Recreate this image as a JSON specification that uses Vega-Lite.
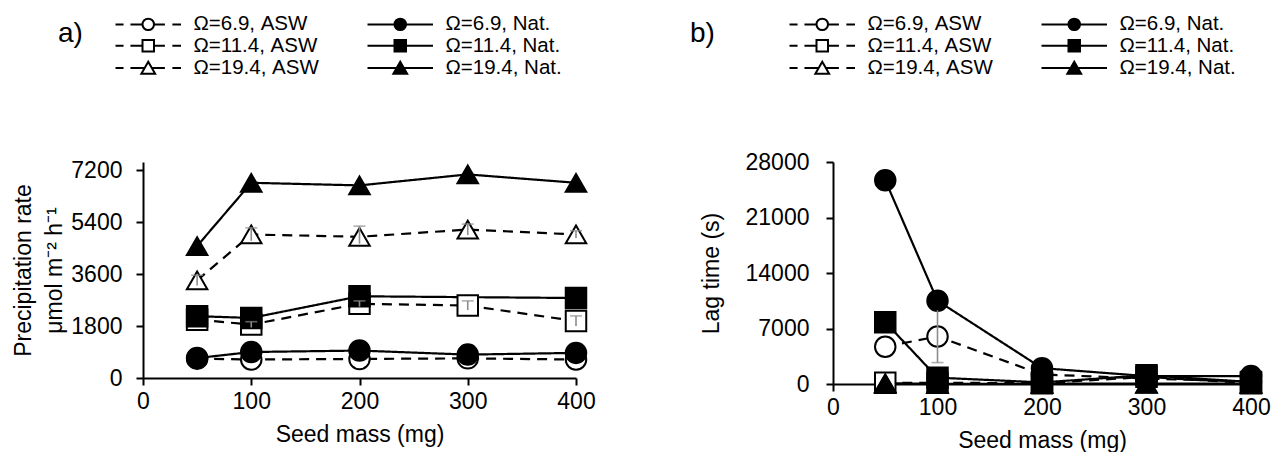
{
  "$schema": "https://vega.github.io/schema/vega-lite/v6.json",
  "background": "white",
  "autosize": {"type": "pad"},
  "padding": {"left": 12, "top": 14, "right": 0, "bottom": 0},
  "spacing": 94,
  "config": {
    "view": {"stroke": null},
    "font": "Liberation Sans",
    "axis": {
      "domainColor": "black", "domainWidth": 2, "tickColor": "black", "tickWidth": 2, "tickSize": 7,
      "labelFontSize": 23, "labelColor": "black", "labelFont": "Liberation Sans",
      "titleFont": "Liberation Sans", "titleFontSize": 23, "titleFontWeight": "normal", "titleColor": "black",
      "grid": false, "labelFlush": false, "labelOverlap": false, "format": "d"
    },
    "axisX": {"labelPadding": 5, "titlePadding": 10},
    "axisY": {"labelPadding": 14},
    "legend": {
      "orient": "none", "columns": 2, "labelFontSize": 20.5, "labelFont": "Liberation Sans", "labelColor": "black",
      "titleFont": "Liberation Sans", "titleFontSize": 28, "titleFontWeight": "normal", "titleColor": "black",
      "titleOrient": "left", "titleAnchor": "start", "titleBaseline": "line-top", "titleLineHeight": 40,
      "symbolSize": 132, "symbolOffset": 26, "labelOffset": 35, "rowPadding": 0.4, "columnPadding": 44,
      "symbolOpacity": 1, "symbolStrokeWidth": 2, "labelLimit": 0
    }
  },
  "datasets": {
    "a": [
      {"x": 50, "y": 670, "series": "Ω=6.9, ASW", "type": "ASW", "om": "6.9"},
      {"x": 100, "y": 640, "series": "Ω=6.9, ASW", "type": "ASW", "om": "6.9"},
      {"x": 200, "y": 660, "series": "Ω=6.9, ASW", "type": "ASW", "om": "6.9"},
      {"x": 300, "y": 680, "series": "Ω=6.9, ASW", "type": "ASW", "om": "6.9"},
      {"x": 400, "y": 640, "series": "Ω=6.9, ASW", "type": "ASW", "om": "6.9"},
      {"x": 50, "y": 2020, "series": "Ω=11.4, ASW", "type": "ASW", "om": "11.4"},
      {"x": 100, "y": 1850, "series": "Ω=11.4, ASW", "type": "ASW", "om": "11.4", "lo": 1750, "hi": 1950},
      {"x": 200, "y": 2570, "series": "Ω=11.4, ASW", "type": "ASW", "om": "11.4", "lo": 2470, "hi": 2670},
      {"x": 300, "y": 2510, "series": "Ω=11.4, ASW", "type": "ASW", "om": "11.4", "lo": 2350, "hi": 2670},
      {"x": 400, "y": 1970, "series": "Ω=11.4, ASW", "type": "ASW", "om": "11.4", "lo": 1800, "hi": 2150},
      {"x": 50, "y": 3380, "series": "Ω=19.4, ASW", "type": "ASW", "om": "19.4", "lo": 3200, "hi": 3560},
      {"x": 100, "y": 4970, "series": "Ω=19.4, ASW", "type": "ASW", "om": "19.4", "lo": 4750, "hi": 5200},
      {"x": 200, "y": 4890, "series": "Ω=19.4, ASW", "type": "ASW", "om": "19.4", "lo": 4650, "hi": 5260},
      {"x": 300, "y": 5140, "series": "Ω=19.4, ASW", "type": "ASW", "om": "19.4", "lo": 4950, "hi": 5330},
      {"x": 400, "y": 4970, "series": "Ω=19.4, ASW", "type": "ASW", "om": "19.4", "lo": 4850, "hi": 5100},
      {"x": 50, "y": 690, "series": "Ω=6.9, Nat.", "type": "Nat", "om": "6.9"},
      {"x": 100, "y": 900, "series": "Ω=6.9, Nat.", "type": "Nat", "om": "6.9"},
      {"x": 200, "y": 950, "series": "Ω=6.9, Nat.", "type": "Nat", "om": "6.9"},
      {"x": 300, "y": 810, "series": "Ω=6.9, Nat.", "type": "Nat", "om": "6.9"},
      {"x": 400, "y": 870, "series": "Ω=6.9, Nat.", "type": "Nat", "om": "6.9"},
      {"x": 50, "y": 2140, "series": "Ω=11.4, Nat.", "type": "Nat", "om": "11.4"},
      {"x": 100, "y": 2080, "series": "Ω=11.4, Nat.", "type": "Nat", "om": "11.4"},
      {"x": 200, "y": 2830, "series": "Ω=11.4, Nat.", "type": "Nat", "om": "11.4"},
      {"x": 400, "y": 2770, "series": "Ω=11.4, Nat.", "type": "Nat", "om": "11.4"},
      {"x": 50, "y": 4570, "series": "Ω=19.4, Nat.", "type": "Nat", "om": "19.4"},
      {"x": 100, "y": 6760, "series": "Ω=19.4, Nat.", "type": "Nat", "om": "19.4"},
      {"x": 200, "y": 6670, "series": "Ω=19.4, Nat.", "type": "Nat", "om": "19.4"},
      {"x": 300, "y": 7050, "series": "Ω=19.4, Nat.", "type": "Nat", "om": "19.4"},
      {"x": 400, "y": 6760, "series": "Ω=19.4, Nat.", "type": "Nat", "om": "19.4"}
    ],
    "b": [
      {"x": 50, "y": 4700, "series": "Ω=6.9, ASW", "type": "ASW", "om": "6.9"},
      {"x": 100, "y": 6000, "series": "Ω=6.9, ASW", "type": "ASW", "om": "6.9", "lo": 2700, "hi": 9300},
      {"x": 200, "y": 1200, "series": "Ω=6.9, ASW", "type": "ASW", "om": "6.9"},
      {"x": 300, "y": 700, "series": "Ω=6.9, ASW", "type": "ASW", "om": "6.9"},
      {"x": 400, "y": 300, "series": "Ω=6.9, ASW", "type": "ASW", "om": "6.9"},
      {"x": 50, "y": 150, "series": "Ω=11.4, ASW", "type": "ASW", "om": "11.4"},
      {"x": 100, "y": 150, "series": "Ω=11.4, ASW", "type": "ASW", "om": "11.4"},
      {"x": 200, "y": 100, "series": "Ω=11.4, ASW", "type": "ASW", "om": "11.4"},
      {"x": 300, "y": 900, "series": "Ω=11.4, ASW", "type": "ASW", "om": "11.4"},
      {"x": 400, "y": 100, "series": "Ω=11.4, ASW", "type": "ASW", "om": "11.4"},
      {"x": 50, "y": 0, "series": "Ω=19.4, ASW", "type": "ASW", "om": "19.4"},
      {"x": 100, "y": 0, "series": "Ω=19.4, ASW", "type": "ASW", "om": "19.4"},
      {"x": 200, "y": 0, "series": "Ω=19.4, ASW", "type": "ASW", "om": "19.4"},
      {"x": 300, "y": 0, "series": "Ω=19.4, ASW", "type": "ASW", "om": "19.4"},
      {"x": 400, "y": 0, "series": "Ω=19.4, ASW", "type": "ASW", "om": "19.4"},
      {"x": 50, "y": 25700, "series": "Ω=6.9, Nat.", "type": "Nat", "om": "6.9"},
      {"x": 100, "y": 10500, "series": "Ω=6.9, Nat.", "type": "Nat", "om": "6.9"},
      {"x": 200, "y": 2000, "series": "Ω=6.9, Nat.", "type": "Nat", "om": "6.9"},
      {"x": 300, "y": 1000, "series": "Ω=6.9, Nat.", "type": "Nat", "om": "6.9"},
      {"x": 400, "y": 1000, "series": "Ω=6.9, Nat.", "type": "Nat", "om": "6.9"},
      {"x": 50, "y": 7800, "series": "Ω=11.4, Nat.", "type": "Nat", "om": "11.4"},
      {"x": 100, "y": 800, "series": "Ω=11.4, Nat.", "type": "Nat", "om": "11.4"},
      {"x": 200, "y": 200, "series": "Ω=11.4, Nat.", "type": "Nat", "om": "11.4"},
      {"x": 300, "y": 1100, "series": "Ω=11.4, Nat.", "type": "Nat", "om": "11.4"},
      {"x": 400, "y": 250, "series": "Ω=11.4, Nat.", "type": "Nat", "om": "11.4"},
      {"x": 50, "y": 100, "series": "Ω=19.4, Nat.", "type": "Nat", "om": "19.4"},
      {"x": 100, "y": 30, "series": "Ω=19.4, Nat.", "type": "Nat", "om": "19.4"},
      {"x": 200, "y": 30, "series": "Ω=19.4, Nat.", "type": "Nat", "om": "19.4"},
      {"x": 300, "y": 50, "series": "Ω=19.4, Nat.", "type": "Nat", "om": "19.4"},
      {"x": 400, "y": 30, "series": "Ω=19.4, Nat.", "type": "Nat", "om": "19.4"}
    ]
  },
  "resolve": {
    "scale": {"shape": "independent", "fill": "independent", "strokeDash": "independent"},
    "legend": {"shape": "independent", "fill": "independent"}
  },
  "hconcat": [
    {
      "width": 433, "height": 216,
      "data": {"name": "a"},
      "encoding": {
        "x": {"field": "x", "type": "quantitative", "scale": {"domain": [0, 400], "nice": false, "zero": false},
              "axis": {"values": [0, 100, 200, 300, 400], "title": "Seed mass (mg)"}},
        "y": {"field": "y", "type": "quantitative", "scale": {"domain": [0, 7480], "nice": false},
              "axis": {"values": [0, 1800, 3600, 5400, 7200], "title": ["Precipitation rate", "μmol m⁻² h⁻¹"], "titlePadding": 4, "titleLineHeight": 31}}
      },
      "layer": [
        {
          "mark": {"type": "line", "color": "black", "strokeWidth": 2.2},
          "encoding": {
            "detail": {"field": "series"},
            "strokeDash": {"field": "type", "type": "nominal", "scale": {"domain": ["ASW", "Nat"], "range": [[10, 7], [1, 0]]}, "legend": null}
          }
        },
        {
          "mark": {"type": "point", "filled": true, "opacity": 1, "stroke": "black", "strokeWidth": 2, "size": 420},
          "encoding": {
            "shape": {"condition": [{"test": "datum.om === '6.9'", "value": "circle"}, {"test": "datum.om === '11.4'", "value": "square"}], "value": "triangle-up"},
            "fill": {"condition": {"test": "datum.type === 'ASW'", "value": "white"}, "value": "black"}
          }
        },
        {
          "transform": [{"filter": "isValid(datum.lo)"}],
          "mark": {"type": "rule", "color": "#8c8c8c", "strokeWidth": 1.6},
          "encoding": {"y": {"field": "lo", "type": "quantitative"}, "y2": {"field": "hi"}}
        },
        {
          "transform": [{"filter": "isValid(datum.hi)"}],
          "mark": {"type": "tick", "orient": "horizontal", "color": "#8c8c8c", "size": 12, "thickness": 1.6},
          "encoding": {"y": {"field": "hi", "type": "quantitative"}}
        },
        {
          "mark": {"type": "point", "opacity": 0, "stroke": "black", "strokeWidth": 2},
          "encoding": {
            "shape": {"field": "series", "type": "nominal",
              "scale": {"domain": ["Ω=6.9, ASW", "Ω=11.4, ASW", "Ω=19.4, ASW", "Ω=6.9, Nat.", "Ω=11.4, Nat.", "Ω=19.4, Nat."],
                "range": [
                  "M-5.7,0H-4.3M-3.1,0H-1M1,0H2.9M4.2,0H5.7M1,0A1,1,0,1,0,-1,0A1,1,0,1,0,1,0Z",
                  "M-5.7,0H-4.3M-3.1,0H-1M1,0H2.9M4.2,0H5.7M-1,-1H1V1H-1Z",
                  "M-5.7,0H-4.3M-3.1,0H-0.6M0.6,0H2.9M4.2,0H5.7M0,-1.1L1.2,1H-1.2Z",
                  "M-5.7,0H5.7M1,0A1,1,0,1,0,-1,0A1,1,0,1,0,1,0Z",
                  "M-5.7,0H5.7M-1,-1H1V1H-1Z",
                  "M-5.7,0H5.7M0,-1.1L1.2,1H-1.2Z"
                ]},
              "legend": {"title": "a)", "legendX": -85, "legendY": -148, "titlePadding": 29}},
            "fill": {"field": "series", "type": "nominal",
              "scale": {"domain": ["Ω=6.9, ASW", "Ω=11.4, ASW", "Ω=19.4, ASW", "Ω=6.9, Nat.", "Ω=11.4, Nat.", "Ω=19.4, Nat."],
                "range": ["white", "white", "white", "black", "black", "black"]},
              "legend": {"title": "a)", "legendX": -85, "legendY": -148, "titlePadding": 29}}
          }
        }
      ]
    },
    {
      "width": 418, "height": 222,
      "data": {"name": "b"},
      "encoding": {
        "x": {"field": "x", "type": "quantitative", "scale": {"domain": [0, 400], "nice": false, "zero": false},
              "axis": {"values": [0, 100, 200, 300, 400], "title": "Seed mass (mg)"}},
        "y": {"field": "y", "type": "quantitative", "scale": {"domain": [0, 28000], "nice": false},
              "axis": {"values": [0, 7000, 14000, 21000, 28000], "title": "Lag time (s)", "titlePadding": 22, "labelPadding": 17}}
      },
      "layer": [
        {
          "mark": {"type": "line", "color": "black", "strokeWidth": 2.2},
          "encoding": {
            "detail": {"field": "series"},
            "strokeDash": {"field": "type", "type": "nominal", "scale": {"domain": ["ASW", "Nat"], "range": [[10, 7], [1, 0]]}, "legend": null}
          }
        },
        {
          "mark": {"type": "point", "filled": true, "opacity": 1, "stroke": "black", "strokeWidth": 2, "size": 420},
          "encoding": {
            "shape": {"condition": [{"test": "datum.om === '6.9'", "value": "circle"}, {"test": "datum.om === '11.4'", "value": "square"}], "value": "triangle-up"},
            "fill": {"condition": {"test": "datum.type === 'ASW'", "value": "white"}, "value": "black"}
          }
        },
        {
          "transform": [{"filter": "isValid(datum.lo)"}],
          "mark": {"type": "rule", "color": "#8c8c8c", "strokeWidth": 1.6},
          "encoding": {"y": {"field": "lo", "type": "quantitative"}, "y2": {"field": "hi"}}
        },
        {
          "transform": [{"filter": "isValid(datum.lo)"}],
          "mark": {"type": "tick", "orient": "horizontal", "color": "#8c8c8c", "size": 12, "thickness": 1.6},
          "encoding": {"y": {"field": "lo", "type": "quantitative"}}
        },
        {
          "mark": {"type": "point", "opacity": 0, "stroke": "black", "strokeWidth": 2},
          "encoding": {
            "shape": {"field": "series", "type": "nominal",
              "scale": {"domain": ["Ω=6.9, ASW", "Ω=11.4, ASW", "Ω=19.4, ASW", "Ω=6.9, Nat.", "Ω=11.4, Nat.", "Ω=19.4, Nat."],
                "range": [
                  "M-5.7,0H-4.3M-3.1,0H-1M1,0H2.9M4.2,0H5.7M1,0A1,1,0,1,0,-1,0A1,1,0,1,0,1,0Z",
                  "M-5.7,0H-4.3M-3.1,0H-1M1,0H2.9M4.2,0H5.7M-1,-1H1V1H-1Z",
                  "M-5.7,0H-4.3M-3.1,0H-0.6M0.6,0H2.9M4.2,0H5.7M0,-1.1L1.2,1H-1.2Z",
                  "M-5.7,0H5.7M1,0A1,1,0,1,0,-1,0A1,1,0,1,0,1,0Z",
                  "M-5.7,0H5.7M-1,-1H1V1H-1Z",
                  "M-5.7,0H5.7M0,-1.1L1.2,1H-1.2Z"
                ]},
              "legend": {"title": "b)", "legendX": -143, "legendY": -148, "titlePadding": 71}},
            "fill": {"field": "series", "type": "nominal",
              "scale": {"domain": ["Ω=6.9, ASW", "Ω=11.4, ASW", "Ω=19.4, ASW", "Ω=6.9, Nat.", "Ω=11.4, Nat.", "Ω=19.4, Nat."],
                "range": ["white", "white", "white", "black", "black", "black"]},
              "legend": {"title": "b)", "legendX": -143, "legendY": -148, "titlePadding": 71}}
          }
        }
      ]
    }
  ]
}
